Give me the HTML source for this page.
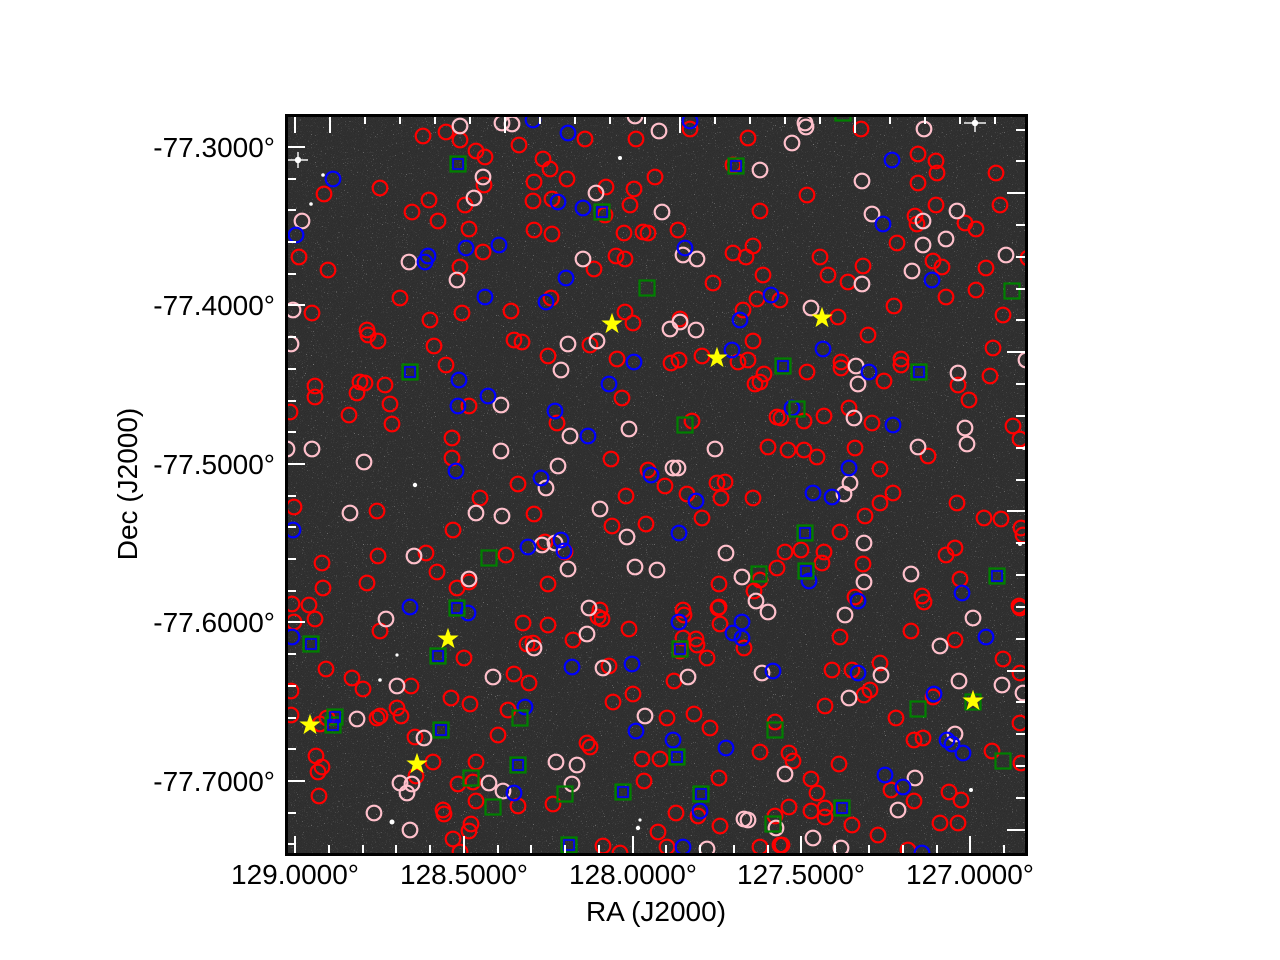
<!DOCTYPE html>
<html><head><meta charset="utf-8"><style>
html,body{margin:0;padding:0;background:#fff;}
svg{display:block;}
text{font-family:"Liberation Sans",Arial,sans-serif;fill:#000;}
</style></head><body>
<svg width="1280" height="960" viewBox="0 0 1280 960" xmlns="http://www.w3.org/2000/svg">
<defs>
<clipPath id="ax"><rect x="286" y="115" width="740" height="740"/></clipPath>
<filter id="spk" x="0" y="0" width="100%" height="100%">
<feTurbulence type="fractalNoise" baseFrequency="0.9" numOctaves="1" seed="7"/>
<feColorMatrix type="matrix" values="0 0 0 0 1 0 0 0 0 1 0 0 0 0 1 1 0 0 0 0"/>
<feComponentTransfer><feFuncA type="discrete" tableValues="0 0 0 0 0 0 0 0 0 0 0 0 0 0 0.35 0.9 1 1 1 1"/></feComponentTransfer>
</filter>
<filter id="grn" x="0" y="0" width="100%" height="100%">
<feTurbulence type="fractalNoise" baseFrequency="1.5" numOctaves="1" seed="3"/>
<feColorMatrix type="matrix" values="0 0 0 0 1 0 0 0 0 1 0 0 0 0 1 0.25 0 0 0 -0.08"/>
</filter>
<polygon id="st" points="0,-10 2.35,-3.24 9.51,-3.09 3.8,1.24 5.88,8.09 0,4 -5.88,8.09 -3.8,1.24 -9.51,-3.09 -2.35,-3.24"/>
</defs>
<g clip-path="url(#ax)">
<rect x="286" y="115" width="740" height="740" fill="#2a2a2a"/>
<rect x="286" y="115" width="740" height="740" filter="url(#grn)" opacity="0.6"/>
<rect x="286" y="115" width="740" height="740" filter="url(#spk)" opacity="0.55"/>
<g fill="#fff">
<circle cx="298" cy="160" r="3.2"/><rect x="288" y="159.3" width="20" height="1.4"/><rect x="297.3" y="152" width="1.4" height="16"/>
<circle cx="975" cy="123" r="3.2"/><rect x="964" y="122.3" width="22" height="1.4"/><rect x="974.3" y="115" width="1.4" height="17"/>
<circle cx="415" cy="485" r="2.2"/><circle cx="392" cy="822" r="2.5"/><circle cx="638" cy="828" r="2.2"/><circle cx="971" cy="790" r="2"/>
<circle cx="1024" cy="448" r="2"/><circle cx="1020" cy="544" r="2"/><circle cx="620" cy="158" r="2"/><circle cx="380" cy="680" r="1.8"/>
<circle cx="323" cy="175" r="1.8"/><circle cx="311" cy="204" r="1.8"/><circle cx="640" cy="820" r="1.6"/><circle cx="397" cy="655" r="1.6"/>
</g>
<g fill="none" stroke="#ff0000" stroke-width="2.2">
<circle cx="423" cy="136" r="7.3"/><circle cx="446" cy="132" r="7.3"/><circle cx="460" cy="140" r="7.3"/><circle cx="476" cy="151" r="7.3"/><circle cx="485" cy="157" r="7.3"/><circle cx="519" cy="145" r="7.3"/><circle cx="380" cy="188" r="7.3"/><circle cx="324" cy="194" r="7.3"/><circle cx="429" cy="200" r="7.3"/><circle cx="412" cy="212" r="7.3"/><circle cx="438" cy="221" r="7.3"/><circle cx="465" cy="205" r="7.3"/><circle cx="484" cy="185" r="7.3"/><circle cx="469" cy="229" r="7.3"/><circle cx="483" cy="252" r="7.3"/><circle cx="460" cy="267" r="7.3"/><circle cx="299" cy="257" r="7.3"/><circle cx="328" cy="270" r="7.3"/><circle cx="400" cy="298" r="7.3"/><circle cx="312" cy="313" r="7.3"/><circle cx="430" cy="320" r="7.3"/><circle cx="462" cy="313" r="7.3"/><circle cx="511" cy="311" r="7.3"/><circle cx="367" cy="330" r="7.3"/><circle cx="368" cy="335" r="7.3"/><circle cx="378" cy="341" r="7.3"/><circle cx="434" cy="346" r="7.3"/><circle cx="514" cy="340" r="7.3"/><circle cx="522" cy="342" r="7.3"/><circle cx="446" cy="365" r="7.3"/>
<circle cx="585" cy="139" r="7.3"/><circle cx="636" cy="139" r="7.3"/><circle cx="690" cy="129" r="7.3"/><circle cx="748" cy="138" r="7.3"/><circle cx="543" cy="159" r="7.3"/><circle cx="550" cy="169" r="7.3"/><circle cx="567" cy="179" r="7.3"/><circle cx="534" cy="182" r="7.3"/><circle cx="655" cy="177" r="7.3"/><circle cx="606" cy="187" r="7.3"/><circle cx="634" cy="189" r="7.3"/><circle cx="533" cy="201" r="7.3"/><circle cx="552" cy="199" r="7.3"/><circle cx="630" cy="205" r="7.3"/><circle cx="605" cy="215" r="7.3"/><circle cx="733" cy="165" r="7.3"/><circle cx="760" cy="211" r="7.3"/><circle cx="534" cy="230" r="7.3"/><circle cx="552" cy="234" r="7.3"/><circle cx="624" cy="233" r="7.3"/><circle cx="643" cy="232" r="7.3"/><circle cx="648" cy="233" r="7.3"/><circle cx="678" cy="230" r="7.3"/><circle cx="616" cy="256" r="7.3"/><circle cx="625" cy="259" r="7.3"/><circle cx="594" cy="269" r="7.3"/><circle cx="733" cy="253" r="7.3"/><circle cx="746" cy="257" r="7.3"/><circle cx="753" cy="246" r="7.3"/><circle cx="763" cy="275" r="7.3"/><circle cx="713" cy="283" r="7.3"/><circle cx="551" cy="298" r="7.3"/><circle cx="757" cy="299" r="7.3"/><circle cx="780" cy="300" r="7.3"/><circle cx="743" cy="310" r="7.3"/><circle cx="625" cy="312" r="7.3"/><circle cx="633" cy="323" r="7.3"/><circle cx="680" cy="319" r="7.3"/><circle cx="590" cy="345" r="7.3"/><circle cx="753" cy="341" r="7.3"/><circle cx="548" cy="356" r="7.3"/><circle cx="617" cy="359" r="7.3"/><circle cx="671" cy="363" r="7.3"/><circle cx="679" cy="360" r="7.3"/><circle cx="702" cy="356" r="7.3"/><circle cx="738" cy="362" r="7.3"/><circle cx="748" cy="360" r="7.3"/>
<circle cx="861" cy="129" r="7.3"/><circle cx="918" cy="154" r="7.3"/><circle cx="936" cy="161" r="7.3"/><circle cx="937" cy="173" r="7.3"/><circle cx="918" cy="183" r="7.3"/><circle cx="996" cy="173" r="7.3"/><circle cx="807" cy="195" r="7.3"/><circle cx="936" cy="205" r="7.3"/><circle cx="1000" cy="205" r="7.3"/><circle cx="915" cy="216" r="7.3"/><circle cx="917" cy="224" r="7.3"/><circle cx="965" cy="223" r="7.3"/><circle cx="976" cy="229" r="7.3"/><circle cx="897" cy="243" r="7.3"/><circle cx="933" cy="261" r="7.3"/><circle cx="942" cy="267" r="7.3"/><circle cx="986" cy="268" r="7.3"/><circle cx="820" cy="257" r="7.3"/><circle cx="863" cy="266" r="7.3"/><circle cx="828" cy="275" r="7.3"/><circle cx="848" cy="282" r="7.3"/><circle cx="946" cy="297" r="7.3"/><circle cx="976" cy="290" r="7.3"/><circle cx="894" cy="306" r="7.3"/><circle cx="1003" cy="315" r="7.3"/><circle cx="838" cy="317" r="7.3"/><circle cx="868" cy="335" r="7.3"/><circle cx="993" cy="348" r="7.3"/><circle cx="841" cy="362" r="7.3"/><circle cx="841" cy="368" r="7.3"/><circle cx="901" cy="359" r="7.3"/><circle cx="901" cy="365" r="7.3"/><circle cx="1028" cy="258" r="7.3"/>
<circle cx="315" cy="386" r="7.3"/><circle cx="315" cy="397" r="7.3"/><circle cx="360" cy="382" r="7.3"/><circle cx="365" cy="383" r="7.3"/><circle cx="357" cy="393" r="7.3"/><circle cx="385" cy="385" r="7.3"/><circle cx="390" cy="404" r="7.3"/><circle cx="349" cy="415" r="7.3"/><circle cx="392" cy="424" r="7.3"/><circle cx="290" cy="412" r="7.3"/><circle cx="469" cy="406" r="7.3"/><circle cx="452" cy="438" r="7.3"/><circle cx="452" cy="458" r="7.3"/><circle cx="518" cy="484" r="7.3"/><circle cx="480" cy="498" r="7.3"/><circle cx="534" cy="514" r="7.3"/><circle cx="294" cy="507" r="7.3"/><circle cx="377" cy="511" r="7.3"/><circle cx="453" cy="530" r="7.3"/><circle cx="426" cy="553" r="7.3"/><circle cx="506" cy="555" r="7.3"/><circle cx="378" cy="556" r="7.3"/><circle cx="322" cy="563" r="7.3"/><circle cx="437" cy="572" r="7.3"/><circle cx="469" cy="582" r="7.3"/><circle cx="457" cy="588" r="7.3"/><circle cx="323" cy="588" r="7.3"/><circle cx="367" cy="583" r="7.3"/><circle cx="292" cy="604" r="7.3"/><circle cx="309" cy="605" r="7.3"/>
<circle cx="764" cy="374" r="7.3"/><circle cx="760" cy="382" r="7.3"/><circle cx="755" cy="384" r="7.3"/><circle cx="622" cy="398" r="7.3"/><circle cx="557" cy="423" r="7.3"/><circle cx="692" cy="421" r="7.3"/><circle cx="777" cy="417" r="7.3"/><circle cx="781" cy="418" r="7.3"/><circle cx="768" cy="447" r="7.3"/><circle cx="788" cy="450" r="7.3"/><circle cx="611" cy="459" r="7.3"/><circle cx="648" cy="470" r="7.3"/><circle cx="665" cy="486" r="7.3"/><circle cx="687" cy="494" r="7.3"/><circle cx="717" cy="483" r="7.3"/><circle cx="725" cy="482" r="7.3"/><circle cx="721" cy="498" r="7.3"/><circle cx="753" cy="498" r="7.3"/><circle cx="626" cy="496" r="7.3"/><circle cx="702" cy="518" r="7.3"/><circle cx="612" cy="526" r="7.3"/><circle cx="646" cy="524" r="7.3"/><circle cx="545" cy="542" r="7.3"/><circle cx="565" cy="552" r="7.3"/><circle cx="785" cy="552" r="7.3"/><circle cx="777" cy="568" r="7.3"/><circle cx="760" cy="580" r="7.3"/><circle cx="548" cy="584" r="7.3"/><circle cx="719" cy="584" r="7.3"/><circle cx="754" cy="591" r="7.3"/><circle cx="719" cy="607" r="7.3"/><circle cx="683" cy="610" r="7.3"/><circle cx="600" cy="610" r="7.3"/>
<circle cx="807" cy="372" r="7.3"/><circle cx="884" cy="381" r="7.3"/><circle cx="958" cy="385" r="7.3"/><circle cx="990" cy="376" r="7.3"/><circle cx="969" cy="400" r="7.3"/><circle cx="849" cy="408" r="7.3"/><circle cx="804" cy="421" r="7.3"/><circle cx="824" cy="416" r="7.3"/><circle cx="872" cy="423" r="7.3"/><circle cx="1013" cy="426" r="7.3"/><circle cx="1020" cy="439" r="7.3"/><circle cx="804" cy="450" r="7.3"/><circle cx="817" cy="457" r="7.3"/><circle cx="855" cy="448" r="7.3"/><circle cx="928" cy="456" r="7.3"/><circle cx="880" cy="469" r="7.3"/><circle cx="893" cy="493" r="7.3"/><circle cx="880" cy="503" r="7.3"/><circle cx="957" cy="503" r="7.3"/><circle cx="865" cy="516" r="7.3"/><circle cx="984" cy="518" r="7.3"/><circle cx="1001" cy="519" r="7.3"/><circle cx="1021" cy="528" r="7.3"/><circle cx="1023" cy="535" r="7.3"/><circle cx="840" cy="532" r="7.3"/><circle cx="801" cy="550" r="7.3"/><circle cx="824" cy="552" r="7.3"/><circle cx="822" cy="563" r="7.3"/><circle cx="955" cy="548" r="7.3"/><circle cx="946" cy="555" r="7.3"/><circle cx="863" cy="564" r="7.3"/><circle cx="960" cy="579" r="7.3"/><circle cx="855" cy="597" r="7.3"/><circle cx="922" cy="596" r="7.3"/><circle cx="924" cy="602" r="7.3"/><circle cx="1019" cy="606" r="7.3"/>
<circle cx="294" cy="622" r="7.3"/><circle cx="315" cy="619" r="7.3"/><circle cx="380" cy="631" r="7.3"/><circle cx="523" cy="623" r="7.3"/><circle cx="527" cy="644" r="7.3"/><circle cx="464" cy="658" r="7.3"/><circle cx="326" cy="669" r="7.3"/><circle cx="352" cy="678" r="7.3"/><circle cx="363" cy="689" r="7.3"/><circle cx="411" cy="686" r="7.3"/><circle cx="514" cy="674" r="7.3"/><circle cx="529" cy="683" r="7.3"/><circle cx="291" cy="691" r="7.3"/><circle cx="451" cy="698" r="7.3"/><circle cx="470" cy="704" r="7.3"/><circle cx="508" cy="710" r="7.3"/><circle cx="291" cy="715" r="7.3"/><circle cx="327" cy="718" r="7.3"/><circle cx="377" cy="718" r="7.3"/><circle cx="380" cy="716" r="7.3"/><circle cx="397" cy="708" r="7.3"/><circle cx="401" cy="716" r="7.3"/><circle cx="320" cy="724" r="7.3"/><circle cx="415" cy="737" r="7.3"/><circle cx="498" cy="735" r="7.3"/><circle cx="316" cy="756" r="7.3"/><circle cx="322" cy="767" r="7.3"/><circle cx="318" cy="772" r="7.3"/><circle cx="433" cy="762" r="7.3"/><circle cx="416" cy="776" r="7.3"/><circle cx="476" cy="762" r="7.3"/><circle cx="458" cy="784" r="7.3"/><circle cx="473" cy="782" r="7.3"/><circle cx="319" cy="796" r="7.3"/><circle cx="476" cy="801" r="7.3"/><circle cx="518" cy="806" r="7.3"/><circle cx="443" cy="810" r="7.3"/><circle cx="444" cy="814" r="7.3"/><circle cx="471" cy="824" r="7.3"/><circle cx="469" cy="831" r="7.3"/><circle cx="453" cy="839" r="7.3"/><circle cx="460" cy="852" r="7.3"/>
<circle cx="548" cy="625" r="7.3"/><circle cx="573" cy="640" r="7.3"/><circle cx="598" cy="617" r="7.3"/><circle cx="602" cy="619" r="7.3"/><circle cx="629" cy="629" r="7.3"/><circle cx="684" cy="615" r="7.3"/><circle cx="718" cy="608" r="7.3"/><circle cx="720" cy="624" r="7.3"/><circle cx="683" cy="638" r="7.3"/><circle cx="696" cy="639" r="7.3"/><circle cx="697" cy="645" r="7.3"/><circle cx="707" cy="658" r="7.3"/><circle cx="744" cy="648" r="7.3"/><circle cx="680" cy="651" r="7.3"/><circle cx="609" cy="666" r="7.3"/><circle cx="674" cy="681" r="7.3"/><circle cx="633" cy="694" r="7.3"/><circle cx="613" cy="702" r="7.3"/><circle cx="667" cy="718" r="7.3"/><circle cx="694" cy="714" r="7.3"/><circle cx="710" cy="728" r="7.3"/><circle cx="775" cy="722" r="7.3"/><circle cx="587" cy="743" r="7.3"/><circle cx="590" cy="747" r="7.3"/><circle cx="642" cy="759" r="7.3"/><circle cx="660" cy="759" r="7.3"/><circle cx="760" cy="752" r="7.3"/><circle cx="719" cy="778" r="7.3"/><circle cx="644" cy="781" r="7.3"/><circle cx="553" cy="804" r="7.3"/><circle cx="676" cy="813" r="7.3"/><circle cx="698" cy="816" r="7.3"/><circle cx="720" cy="826" r="7.3"/><circle cx="775" cy="816" r="7.3"/><circle cx="658" cy="832" r="7.3"/><circle cx="603" cy="846" r="7.3"/><circle cx="620" cy="853" r="7.3"/><circle cx="667" cy="847" r="7.3"/><circle cx="760" cy="847" r="7.3"/><circle cx="780" cy="845" r="7.3"/><circle cx="533" cy="643" r="7.3"/>
<circle cx="1020" cy="608" r="7.3"/><circle cx="840" cy="637" r="7.3"/><circle cx="911" cy="631" r="7.3"/><circle cx="955" cy="640" r="7.3"/><circle cx="1003" cy="659" r="7.3"/><circle cx="832" cy="670" r="7.3"/><circle cx="852" cy="670" r="7.3"/><circle cx="880" cy="663" r="7.3"/><circle cx="1020" cy="673" r="7.3"/><circle cx="870" cy="690" r="7.3"/><circle cx="864" cy="695" r="7.3"/><circle cx="825" cy="706" r="7.3"/><circle cx="933" cy="697" r="7.3"/><circle cx="896" cy="718" r="7.3"/><circle cx="1020" cy="723" r="7.3"/><circle cx="914" cy="740" r="7.3"/><circle cx="923" cy="738" r="7.3"/><circle cx="992" cy="751" r="7.3"/><circle cx="789" cy="753" r="7.3"/><circle cx="793" cy="761" r="7.3"/><circle cx="839" cy="764" r="7.3"/><circle cx="1021" cy="763" r="7.3"/><circle cx="811" cy="779" r="7.3"/><circle cx="817" cy="793" r="7.3"/><circle cx="891" cy="790" r="7.3"/><circle cx="949" cy="792" r="7.3"/><circle cx="961" cy="800" r="7.3"/><circle cx="914" cy="801" r="7.3"/><circle cx="789" cy="807" r="7.3"/><circle cx="811" cy="811" r="7.3"/><circle cx="825" cy="808" r="7.3"/><circle cx="825" cy="817" r="7.3"/><circle cx="852" cy="825" r="7.3"/><circle cx="940" cy="823" r="7.3"/><circle cx="958" cy="823" r="7.3"/><circle cx="878" cy="835" r="7.3"/><circle cx="782" cy="845" r="7.3"/><circle cx="908" cy="850" r="7.3"/>
</g>
<g fill="none" stroke="#ffc0cb" stroke-width="2.2">
<circle cx="460" cy="126" r="7.3"/><circle cx="502" cy="123" r="7.3"/><circle cx="512" cy="124" r="7.3"/><circle cx="483" cy="177" r="7.3"/><circle cx="474" cy="198" r="7.3"/><circle cx="302" cy="221" r="7.3"/><circle cx="409" cy="262" r="7.3"/><circle cx="457" cy="280" r="7.3"/><circle cx="293" cy="310" r="7.3"/><circle cx="291" cy="344" r="7.3"/>
<circle cx="659" cy="131" r="7.3"/><circle cx="760" cy="170" r="7.3"/><circle cx="596" cy="193" r="7.3"/><circle cx="662" cy="212" r="7.3"/><circle cx="583" cy="259" r="7.3"/><circle cx="683" cy="255" r="7.3"/><circle cx="697" cy="259" r="7.3"/><circle cx="670" cy="329" r="7.3"/><circle cx="680" cy="322" r="7.3"/><circle cx="696" cy="330" r="7.3"/><circle cx="568" cy="344" r="7.3"/><circle cx="597" cy="341" r="7.3"/><circle cx="635" cy="116" r="7.3"/>
<circle cx="805" cy="123" r="7.3"/><circle cx="806" cy="127" r="7.3"/><circle cx="924" cy="129" r="7.3"/><circle cx="792" cy="143" r="7.3"/><circle cx="862" cy="181" r="7.3"/><circle cx="872" cy="214" r="7.3"/><circle cx="923" cy="221" r="7.3"/><circle cx="957" cy="211" r="7.3"/><circle cx="946" cy="239" r="7.3"/><circle cx="923" cy="245" r="7.3"/><circle cx="912" cy="271" r="7.3"/><circle cx="862" cy="284" r="7.3"/><circle cx="1006" cy="255" r="7.3"/><circle cx="811" cy="308" r="7.3"/><circle cx="1026" cy="360" r="7.3"/>
<circle cx="287" cy="449" r="7.3"/><circle cx="312" cy="449" r="7.3"/><circle cx="364" cy="462" r="7.3"/><circle cx="501" cy="405" r="7.3"/><circle cx="501" cy="451" r="7.3"/><circle cx="350" cy="513" r="7.3"/><circle cx="476" cy="513" r="7.3"/><circle cx="502" cy="516" r="7.3"/><circle cx="414" cy="556" r="7.3"/><circle cx="469" cy="579" r="7.3"/>
<circle cx="561" cy="370" r="7.3"/><circle cx="629" cy="429" r="7.3"/><circle cx="570" cy="436" r="7.3"/><circle cx="715" cy="449" r="7.3"/><circle cx="558" cy="466" r="7.3"/><circle cx="673" cy="468" r="7.3"/><circle cx="678" cy="468" r="7.3"/><circle cx="546" cy="488" r="7.3"/><circle cx="600" cy="509" r="7.3"/><circle cx="627" cy="537" r="7.3"/><circle cx="542" cy="545" r="7.3"/><circle cx="555" cy="543" r="7.3"/><circle cx="568" cy="569" r="7.3"/><circle cx="635" cy="567" r="7.3"/><circle cx="657" cy="570" r="7.3"/><circle cx="726" cy="553" r="7.3"/><circle cx="742" cy="577" r="7.3"/><circle cx="756" cy="601" r="7.3"/><circle cx="589" cy="608" r="7.3"/><circle cx="768" cy="612" r="7.3"/>
<circle cx="856" cy="366" r="7.3"/><circle cx="858" cy="384" r="7.3"/><circle cx="958" cy="373" r="7.3"/><circle cx="854" cy="418" r="7.3"/><circle cx="965" cy="428" r="7.3"/><circle cx="967" cy="444" r="7.3"/><circle cx="918" cy="447" r="7.3"/><circle cx="850" cy="483" r="7.3"/><circle cx="844" cy="494" r="7.3"/><circle cx="864" cy="543" r="7.3"/><circle cx="911" cy="574" r="7.3"/><circle cx="864" cy="582" r="7.3"/>
<circle cx="386" cy="619" r="7.3"/><circle cx="534" cy="648" r="7.3"/><circle cx="493" cy="677" r="7.3"/><circle cx="397" cy="686" r="7.3"/><circle cx="357" cy="719" r="7.3"/><circle cx="424" cy="738" r="7.3"/><circle cx="400" cy="783" r="7.3"/><circle cx="412" cy="784" r="7.3"/><circle cx="407" cy="793" r="7.3"/><circle cx="489" cy="783" r="7.3"/><circle cx="503" cy="791" r="7.3"/><circle cx="374" cy="813" r="7.3"/><circle cx="410" cy="830" r="7.3"/>
<circle cx="587" cy="634" r="7.3"/><circle cx="603" cy="668" r="7.3"/><circle cx="688" cy="677" r="7.3"/><circle cx="645" cy="716" r="7.3"/><circle cx="762" cy="673" r="7.3"/><circle cx="556" cy="762" r="7.3"/><circle cx="577" cy="765" r="7.3"/><circle cx="572" cy="784" r="7.3"/><circle cx="744" cy="819" r="7.3"/><circle cx="748" cy="820" r="7.3"/><circle cx="776" cy="828" r="7.3"/><circle cx="707" cy="849" r="7.3"/><circle cx="785" cy="774" r="7.3"/>
<circle cx="845" cy="615" r="7.3"/><circle cx="973" cy="618" r="7.3"/><circle cx="940" cy="646" r="7.3"/><circle cx="881" cy="675" r="7.3"/><circle cx="849" cy="698" r="7.3"/><circle cx="959" cy="681" r="7.3"/><circle cx="1002" cy="685" r="7.3"/><circle cx="1023" cy="693" r="7.3"/><circle cx="955" cy="734" r="7.3"/><circle cx="915" cy="778" r="7.3"/><circle cx="898" cy="810" r="7.3"/><circle cx="813" cy="838" r="7.3"/><circle cx="841" cy="848" r="7.3"/>
</g>
<g fill="none" stroke="#0000ff" stroke-width="2.2">
<circle cx="333" cy="179" r="7.3"/><circle cx="296" cy="235" r="7.3"/><circle cx="428" cy="256" r="7.3"/><circle cx="425" cy="262" r="7.3"/><circle cx="466" cy="248" r="7.3"/><circle cx="499" cy="245" r="7.3"/><circle cx="485" cy="297" r="7.3"/><circle cx="533" cy="120" r="7.3"/>
<circle cx="568" cy="133" r="7.3"/><circle cx="690" cy="121" r="7.3"/><circle cx="558" cy="202" r="7.3"/><circle cx="583" cy="208" r="7.3"/><circle cx="685" cy="248" r="7.3"/><circle cx="566" cy="278" r="7.3"/><circle cx="546" cy="302" r="7.3"/><circle cx="771" cy="295" r="7.3"/><circle cx="740" cy="320" r="7.3"/><circle cx="732" cy="350" r="7.3"/><circle cx="634" cy="362" r="7.3"/>
<circle cx="892" cy="160" r="7.3"/><circle cx="883" cy="224" r="7.3"/><circle cx="932" cy="280" r="7.3"/><circle cx="823" cy="349" r="7.3"/>
<circle cx="459" cy="380" r="7.3"/><circle cx="488" cy="396" r="7.3"/><circle cx="458" cy="406" r="7.3"/><circle cx="456" cy="471" r="7.3"/><circle cx="293" cy="530" r="7.3"/><circle cx="528" cy="547" r="7.3"/><circle cx="410" cy="607" r="7.3"/><circle cx="468" cy="613" r="7.3"/>
<circle cx="609" cy="384" r="7.3"/><circle cx="555" cy="411" r="7.3"/><circle cx="588" cy="436" r="7.3"/><circle cx="651" cy="475" r="7.3"/><circle cx="541" cy="478" r="7.3"/><circle cx="696" cy="501" r="7.3"/><circle cx="679" cy="533" r="7.3"/><circle cx="561" cy="540" r="7.3"/><circle cx="564" cy="551" r="7.3"/>
<circle cx="869" cy="372" r="7.3"/><circle cx="792" cy="408" r="7.3"/><circle cx="893" cy="425" r="7.3"/><circle cx="849" cy="468" r="7.3"/><circle cx="813" cy="493" r="7.3"/><circle cx="832" cy="497" r="7.3"/><circle cx="809" cy="581" r="7.3"/><circle cx="858" cy="601" r="7.3"/><circle cx="962" cy="593" r="7.3"/>
<circle cx="292" cy="637" r="7.3"/><circle cx="525" cy="707" r="7.3"/><circle cx="514" cy="793" r="7.3"/>
<circle cx="679" cy="622" r="7.3"/><circle cx="742" cy="622" r="7.3"/><circle cx="733" cy="633" r="7.3"/><circle cx="742" cy="638" r="7.3"/><circle cx="572" cy="667" r="7.3"/><circle cx="632" cy="664" r="7.3"/><circle cx="773" cy="671" r="7.3"/><circle cx="636" cy="731" r="7.3"/><circle cx="673" cy="740" r="7.3"/><circle cx="726" cy="748" r="7.3"/><circle cx="700" cy="811" r="7.3"/><circle cx="683" cy="847" r="7.3"/>
<circle cx="986" cy="637" r="7.3"/><circle cx="858" cy="673" r="7.3"/><circle cx="934" cy="694" r="7.3"/><circle cx="947" cy="740" r="7.3"/><circle cx="952" cy="744" r="7.3"/><circle cx="963" cy="753" r="7.3"/><circle cx="885" cy="775" r="7.3"/><circle cx="903" cy="787" r="7.3"/><circle cx="922" cy="853" r="7.3"/>
</g>
<g fill="none" stroke="#008000" stroke-width="2.2">
<rect x="450.5" y="156.5" width="15" height="15"/><rect x="728.5" y="158.5" width="15" height="15"/><rect x="594.5" y="204.5" width="15" height="15"/><rect x="639.5" y="280.5" width="15" height="15"/><rect x="775.5" y="358.5" width="15" height="15"/><rect x="835.5" y="105.5" width="15" height="15"/><rect x="1004.5" y="283.5" width="15" height="15"/><rect x="402.5" y="364.5" width="15" height="15"/><rect x="481.5" y="550.5" width="15" height="15"/><rect x="449.5" y="600.5" width="15" height="15"/><rect x="677.5" y="417.5" width="15" height="15"/><rect x="751.5" y="566.5" width="15" height="15"/><rect x="911.5" y="364.5" width="15" height="15"/><rect x="789.5" y="401.5" width="15" height="15"/><rect x="797.5" y="525.5" width="15" height="15"/><rect x="798.5" y="563.5" width="15" height="15"/><rect x="989.5" y="568.5" width="15" height="15"/><rect x="303.5" y="636.5" width="15" height="15"/><rect x="430.5" y="648.5" width="15" height="15"/><rect x="327.5" y="709.5" width="15" height="15"/><rect x="325.5" y="717.5" width="15" height="15"/><rect x="433.5" y="722.5" width="15" height="15"/><rect x="512.5" y="710.5" width="15" height="15"/><rect x="510.5" y="757.5" width="15" height="15"/><rect x="463.5" y="770.5" width="15" height="15"/><rect x="485.5" y="799.5" width="15" height="15"/><rect x="672.5" y="641.5" width="15" height="15"/><rect x="767.5" y="722.5" width="15" height="15"/><rect x="669.5" y="749.5" width="15" height="15"/><rect x="557.5" y="786.5" width="15" height="15"/><rect x="615.5" y="784.5" width="15" height="15"/><rect x="693.5" y="786.5" width="15" height="15"/><rect x="765.5" y="816.5" width="15" height="15"/><rect x="561.5" y="837.5" width="15" height="15"/><rect x="910.5" y="701.5" width="15" height="15"/><rect x="995.5" y="753.5" width="15" height="15"/><rect x="834.5" y="800.5" width="15" height="15"/><rect x="965.5" y="694.5" width="15" height="15"/>
</g>
<g fill="none" stroke="#0000ff" stroke-width="1.6">
<rect x="453" y="159" width="10" height="10"/><rect x="731" y="161" width="10" height="10"/><rect x="597" y="207" width="10" height="10"/><rect x="778" y="361" width="10" height="10"/><rect x="405" y="367" width="10" height="10"/><rect x="452" y="603" width="10" height="10"/><rect x="914" y="367" width="10" height="10"/><rect x="800" y="528" width="10" height="10"/><rect x="801" y="566" width="10" height="10"/><rect x="992" y="571" width="10" height="10"/><rect x="306" y="639" width="10" height="10"/><rect x="433" y="651" width="10" height="10"/><rect x="330" y="712" width="10" height="10"/><rect x="328" y="720" width="10" height="10"/><rect x="436" y="725" width="10" height="10"/><rect x="513" y="760" width="10" height="10"/><rect x="675" y="644" width="10" height="10"/><rect x="672" y="752" width="10" height="10"/><rect x="618" y="787" width="10" height="10"/><rect x="696" y="789" width="10" height="10"/><rect x="564" y="840" width="10" height="10"/><rect x="837" y="803" width="10" height="10"/>
</g>
<g fill="#ffff00" stroke="#ffff00" stroke-width="0.8">
<use href="#st" x="612" y="324"/><use href="#st" x="717" y="358"/><use href="#st" x="822" y="318"/><use href="#st" x="448" y="639"/><use href="#st" x="310" y="725"/><use href="#st" x="417" y="764"/><use href="#st" x="973" y="701"/>
</g>
<g stroke="#fff" stroke-width="2">
<path d="M295 117v16M330 117v16M365 117v7M400 117v7M435 117v7M470 117v7M505 117v16M540 117v7M575 117v7M610 117v7M645 117v7M680 117v16M715 117v7M750 117v7M785 117v7M820 117v7M855 117v16M890 117v7M925 117v7M960 117v7M995 117v7"/>
<path d="M295 853v-17M329 853v-8M363 853v-8M396 853v-8M430 853v-8M464 853v-17M498 853v-8M531 853v-8M565 853v-8M599 853v-8M633 853v-17M666 853v-8M700 853v-8M734 853v-8M768 853v-8M801 853v-17M835 853v-8M869 853v-8M903 853v-8M937 853v-8M970 853v-17M1004 853v-8"/>
<path d="M288 147h17M288 179h8M288 210h8M288 242h8M288 274h8M288 305h17M288 337h8M288 369h8M288 401h8M288 432h8M288 464h17M288 496h8M288 527h8M288 559h8M288 591h8M288 622h17M288 654h8M288 686h8M288 718h8M288 749h8M288 781h17M288 813h8M288 844h8"/>
<path d="M1025 130h-9M1025 161h-9M1025 193h-18M1025 225h-9M1025 257h-9M1025 289h-9M1025 320h-9M1025 352h-18M1025 384h-9M1025 416h-9M1025 448h-9M1025 480h-9M1025 511h-18M1025 543h-9M1025 575h-9M1025 607h-9M1025 639h-9M1025 671h-18M1025 702h-9M1025 734h-9M1025 766h-9M1025 798h-9M1025 830h-18"/>
</g>
</g>
<rect x="286.5" y="115.5" width="740" height="739" fill="none" stroke="#000" stroke-width="3"/>
<g font-size="28" text-anchor="end">
<text x="275" y="157">-77.3000°</text>
<text x="275" y="315">-77.4000°</text>
<text x="275" y="474">-77.5000°</text>
<text x="275" y="632">-77.6000°</text>
<text x="275" y="791">-77.7000°</text>
</g>
<g font-size="28" text-anchor="middle">
<text x="295" y="884">129.0000°</text>
<text x="464" y="884">128.5000°</text>
<text x="633" y="884">128.0000°</text>
<text x="801" y="884">127.5000°</text>
<text x="970" y="884">127.0000°</text>
<text x="656" y="921">RA (J2000)</text>
<text transform="translate(137,484) rotate(-90)">Dec (J2000)</text>
</g>
</svg>
</body></html>
